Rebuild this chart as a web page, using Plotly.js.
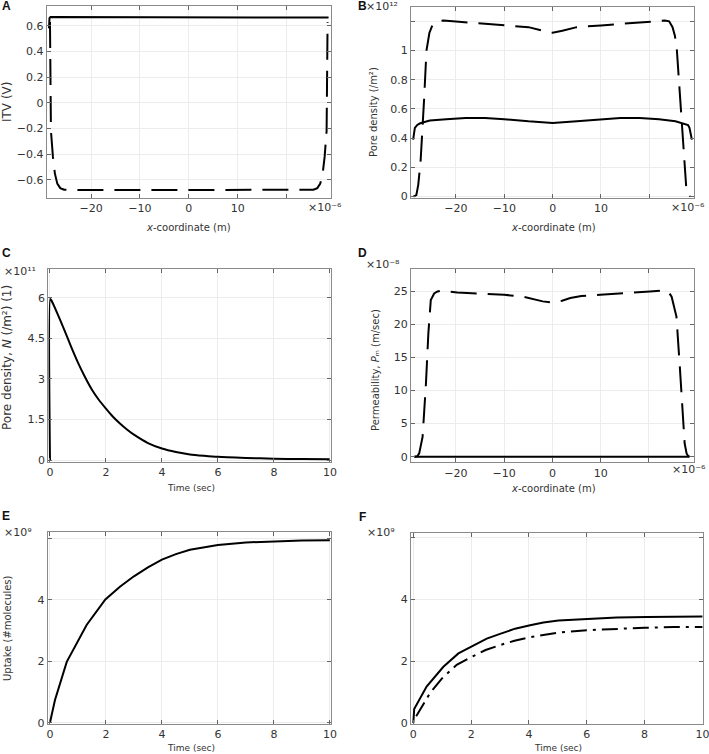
<!DOCTYPE html>
<html>
<head>
<meta charset="utf-8">
<script src="https://cdn.plot.ly/plotly-3.0.1.min.js"></script>
<style>html,body{margin:0;padding:0;background:#fff}#chart{width:709px;height:754px}</style>
</head>
<body>
<div id="chart"></div>
<script>
// ---------------- DATA ----------------
// Panel A: ITV along x-coordinate (units of 1e-6 m)
const aSolidX = [-28.6, -28.5, -28.3, -20, -10, 0, 10, 20, 28.3, 28.6];
const aSolidY = [0.58, 0.66, 0.668, 0.668, 0.668, 0.667, 0.668, 0.668, 0.667, 0.665];
const aDashX = [-28.4, -28.3, -28.2, -27.8, -27.4, -26.9, -26.3, -25.5, -24, -15, -5, 0, 5, 15, 24, 25.5, 26.3, 26.9, 27.4, 27.8, 28.2, 28.3, 28.4];
const aDashY = [0.63, 0.2, -0.22, -0.42, -0.55, -0.63, -0.665, -0.678, -0.68, -0.68, -0.679, -0.678, -0.679, -0.68, -0.68, -0.678, -0.665, -0.63, -0.55, -0.42, -0.22, 0.2, 0.63];

// Panel B: pore density (units of 1e12 /m^2)
const bDashX = [-28.8, -28.2, -27.8, -27.3, -26.6, -26.1, -25.5, -24.8, -23.7, -22.6, -20, -15, -10, -5, -2, 0, 2, 5, 10, 15, 20, 23.2, 24.1, 24.8, 25.3, 25.7, 26.4, 27.25, 27.7, 28.0, 28.4];
const bDashY = [0, 0.01, 0.08, 0.25, 0.66, 1.0, 1.12, 1.18, 1.2, 1.205, 1.198, 1.185, 1.175, 1.16, 1.135, 1.122, 1.135, 1.16, 1.172, 1.185, 1.195, 1.205, 1.2, 1.16, 1.1, 1.0, 0.66, 0.21, 0.03, 0.01, 0];
const bSolidX = [-28.86, -28.5, -28.0, -27.5, -26.5, -25.4, -22, -18, -14, -10, -5, 0, 5, 10, 14, 18, 22, 25.4, 27.0, 28.0, 28.3, 28.8];
const bSolidY = [0.39, 0.47, 0.49, 0.5, 0.51, 0.52, 0.53, 0.537, 0.537, 0.53, 0.515, 0.504, 0.515, 0.53, 0.537, 0.537, 0.53, 0.515, 0.5, 0.49, 0.47, 0.39];

// Panel C: pore density vs time (units of 1e11)
const cTime = [0, 0.01, 0.05, 0.25, 0.5, 0.75, 1.0, 1.25, 1.5, 1.75, 2.0, 2.25, 2.5, 2.75, 3.0, 3.5, 4.0, 4.5, 5.0, 5.5, 6.0, 7.0, 8.0, 9.0, 10.0];
const cN = [0, 5.95, 5.9, 5.45, 4.84, 4.2, 3.6, 3.07, 2.6, 2.22, 1.9, 1.6, 1.35, 1.13, 0.94, 0.63, 0.43, 0.3, 0.21, 0.16, 0.12, 0.08, 0.05, 0.04, 0.03];

// Panel D: permeability (units of 1e-8 m/sec)
const dDashX = [-28.6, -28.0, -27.6, -26.9, -26.2, -25.7, -25.2, -24.5, -23.8, -23.1, -19.7, -15, -10, -6, -3.9, -2, 0, 2, 3.7, 6, 9.9, 15, 20.2, 23.3, 24.0, 24.7, 25.7, 26.4, 27.1, 27.4, 27.8, 28.1, 28.4];
const dDashY = [0, 0.05, 0.5, 3.0, 11.1, 18.7, 23.7, 24.7, 25.0, 25.1, 24.85, 24.7, 24.5, 24.2, 23.85, 23.5, 23.3, 23.6, 24.0, 24.3, 24.5, 24.7, 25.0, 25.15, 25.0, 24.2, 21.2, 13.6, 6.1, 2.0, 0.5, 0.1, 0];
const dSolidX = [-28.6, -20, -10, 0, 10, 20, 28.4];
const dSolidY = [0, 0, 0, 0, 0, 0, 0];

// Panel E: uptake (units of 1e9 molecules)
const eTime = [0, 0.18, 0.6, 1.31, 1.98, 2.5, 3.0, 3.5, 4.0, 4.5, 5.0, 5.5, 6.0, 7.0, 8.0, 9.0, 10.0];
const eUptake = [0, 0.74, 1.98, 3.18, 4.01, 4.42, 4.76, 5.05, 5.3, 5.48, 5.62, 5.71, 5.78, 5.86, 5.9, 5.92, 5.93];

// Panel F: uptake, two cases (units of 1e9 molecules)
const fSolidT = [0, 0.03, 0.46, 1.04, 1.56, 2.02, 2.54, 3.0, 3.52, 4.04, 4.5, 5.02, 6.0, 7.04, 8.08, 10];
const fSolidV = [0, 0.45, 1.18, 1.82, 2.25, 2.47, 2.73, 2.88, 3.05, 3.16, 3.25, 3.31, 3.37, 3.41, 3.43, 3.44];
const fDashT = [0.1, 0.58, 1.0, 1.5, 2.0, 2.5, 3.0, 3.5, 4.0, 4.5, 5.0, 6.0, 7.0, 8.0, 9.0, 10.0];
const fDashV = [0.22, 0.97, 1.45, 1.88, 2.13, 2.36, 2.52, 2.66, 2.77, 2.85, 2.92, 3.0, 3.05, 3.08, 3.1, 3.1];

// Tick values / labels (the top/right tick carries no number: the exponent is written beside it)
const xCoordTicks = [-20, -10, 0, 10, 20];
const xCoordLabels = ['\u221220', '\u221210', '0', '10', '\u00a0'];
const aYTicks = [-0.6, -0.4, -0.2, 0, 0.2, 0.4, 0.6];
const aYLabels = ['\u22120.6', '\u22120.4', '\u22120.2', '0', '0.2', '0.4', '0.6'];
const bYTicks = [0, 0.2, 0.4, 0.6, 0.8, 1.0, 1.2];
const bYLabels = ['0', '0.2', '0.4', '0.6', '0.8', '1', '\u00a0'];
const cYTicks = [0, 1.5, 3, 4.5, 6];
const cYLabels = ['0', '1.5', '3', '4.5', '6'];
const dYTicks = [0, 5, 10, 15, 20, 25];
const dYLabels = ['0', '5', '10', '15', '20', '25'];
const timeTicks = [0, 2, 4, 6, 8, 10];
const timeLabels = ['0', '2', '4', '6', '8', '10'];
const uYTicks = [0, 2, 4, 6];
const uYLabels = ['0', '2', '4', '\u00a0'];

// ---------------- LAYOUT HELPERS ----------------
const W = 709, H = 754;
const fx = p => p / W;
const fy = p => 1 - p / H;
const tickFont = {family: 'DejaVu Sans', size: 11, color: '#333'};
const lineStyle = {color: '#000', width: 2};

function axis(domain, range, tickvals, ticktext, anchor) {
  return {
    domain: domain, range: range, anchor: anchor,
    tickmode: 'array', tickvals: tickvals, ticktext: ticktext,
    ticks: 'inside', ticklen: 4, tickwidth: 1, tickcolor: '#666',
    showline: true, linecolor: '#8a8a8a', linewidth: 1, mirror: 'ticks',
    showgrid: true, gridcolor: '#ececec', gridwidth: 1,
    zeroline: false, tickfont: tickFont, fixedrange: true,
    ticklabeloverflow: 'allow'
  };
}

const traces = [
  {x: aSolidX, y: aSolidY, xaxis: 'x', yaxis: 'y', mode: 'lines', line: {...lineStyle}},
  {x: aDashX, y: aDashY, xaxis: 'x', yaxis: 'y', mode: 'lines', line: {...lineStyle, dash: '26px,11px'}},
  {x: bSolidX, y: bSolidY, xaxis: 'x2', yaxis: 'y2', mode: 'lines', line: {...lineStyle}},
  {x: bDashX, y: bDashY, xaxis: 'x2', yaxis: 'y2', mode: 'lines', line: {...lineStyle, dash: '26px,11px'}},
  {x: cTime, y: cN, xaxis: 'x3', yaxis: 'y3', mode: 'lines', line: {...lineStyle, shape: 'spline', smoothing: 0.6}},
  {x: dSolidX, y: dSolidY, xaxis: 'x4', yaxis: 'y4', mode: 'lines', line: {...lineStyle}},
  {x: dDashX, y: dDashY, xaxis: 'x4', yaxis: 'y4', mode: 'lines', line: {...lineStyle, dash: '26px,11px'}},
  {x: eTime, y: eUptake, xaxis: 'x5', yaxis: 'y5', mode: 'lines', line: {...lineStyle}},
  {x: fSolidT, y: fSolidV, xaxis: 'x6', yaxis: 'y6', mode: 'lines', line: {...lineStyle}},
  {x: fDashT, y: fDashV, xaxis: 'x6', yaxis: 'y6', mode: 'lines', line: {...lineStyle, dash: '16px,6px,3px,6px'}}
];

function ann(text, px, py, opts) {
  return Object.assign({
    text: text, x: fx(px), y: fy(py), xref: 'paper', yref: 'paper',
    showarrow: false, xanchor: 'center', yanchor: 'middle',
    font: {family: 'DejaVu Sans', size: 10, color: '#333'}
  }, opts || {});
}
const labelFont = {family: 'Liberation Sans', size: 12, color: '#111', weight: 'bold'};
const timeFont = {family: 'DejaVu Sans', size: 9, color: '#333'};
const bigTitleFont = {family: 'DejaVu Sans', size: 12, color: '#333'};
const expFont = {family: 'DejaVu Sans', size: 11, color: '#333'};

const annotations = [
  // panel letters
  ann('A', 6, 6, {font: labelFont}),
  ann('B', 362, 6, {font: labelFont}),
  ann('C', 6, 253, {font: labelFont}),
  ann('D', 362, 253, {font: labelFont}),
  ann('E', 6, 516, {font: labelFont}),
  ann('F', 362, 517, {font: labelFont}),
  // axis titles
  ann('ITV (V)', 7, 102, {textangle: -90, font: bigTitleFont}),
  ann('<i>x</i>-coordinate (m)', 189, 227),
  ann('Pore density (/m\u00b2)', 373, 112, {textangle: -90}),
  ann('<i>x</i>-coordinate (m)', 553, 227),
  ann('Pore density, <i>N</i> (/m\u00b2) (1)', 7, 358, {textangle: -90, font: bigTitleFont}),
  ann('Time (sec)', 191, 488, {font: timeFont}),
  ann('Permeability, <i>P</i>\u2098 (m/sec)', 375, 370, {textangle: -90}),
  ann('<i>x</i>-coordinate (m)', 553, 488),
  ann('Uptake (#molecules)', 7, 628, {textangle: -90}),
  ann('Time (sec)', 191, 748, {font: timeFont}),
  ann('Time (sec)', 558, 748, {font: timeFont}),
  // exponent labels
  ann('\u00d710\u207b\u2076', 325, 207, {font: expFont}),
  ann('\u00d710\u00b9\u00b2', 382, 6, {font: expFont}),
  ann('\u00d710\u207b\u2076', 688, 207, {font: expFont}),
  ann('\u00d710\u00b9\u00b9', 20, 271, {font: expFont}),
  ann('\u00d710\u207b\u2078', 383, 264, {font: expFont}),
  ann('\u00d710\u207b\u2076', 689, 469, {font: expFont}),
  ann('\u00d710\u2079', 18, 532, {font: expFont}),
  ann('\u00d710\u2079', 381, 532, {font: expFont})
];

const layout = {
  width: W, height: H,
  margin: {l: 0, r: 0, t: 0, b: 0},
  paper_bgcolor: '#fff', plot_bgcolor: '#fff',
  showlegend: false,
  xaxis:  axis([fx(46.7), fx(331)], [-29.07, 29.1], xCoordTicks, xCoordLabels, 'y'),
  yaxis:  axis([fy(198), fy(5.7)], [-0.742, 0.757], aYTicks, aYLabels, 'x'),
  xaxis2: axis([fx(411), fx(694.3)], [-29.3, 29.3], xCoordTicks, xCoordLabels, 'y2'),
  yaxis2: axis([fy(198), fy(6.7)], [-0.01, 1.30], bYTicks, bYLabels, 'x2'),
  xaxis3: axis([fx(48.3), fx(331)], [-0.06, 10.04], timeTicks, timeLabels, 'y3'),
  yaxis3: axis([fy(461.7), fy(269)], [-0.06, 7.06], cYTicks, cYLabels, 'x3'),
  xaxis4: axis([fx(411), fx(694.3)], [-29.3, 29.4], xCoordTicks, xCoordLabels, 'y4'),
  yaxis4: axis([fy(462.3), fy(269)], [-0.85, 28.4], dYTicks, dYLabels, 'x4'),
  xaxis5: axis([fx(47.7), fx(331)], [-0.08, 10.04], timeTicks, timeLabels, 'y5'),
  yaxis5: axis([fy(724), fy(532.3)], [-0.04, 6.19], uYTicks, uYLabels, 'x5'),
  xaxis6: axis([fx(411), fx(703.3)], [-0.08, 10.03], timeTicks, timeLabels, 'y6'),
  yaxis6: axis([fy(724), fy(532.7)], [-0.03, 6.15], uYTicks, uYLabels, 'x6'),
  annotations: annotations
};

Plotly.newPlot('chart', traces, layout, {displayModeBar: false, staticPlot: true});
</script>
</body>
</html>
